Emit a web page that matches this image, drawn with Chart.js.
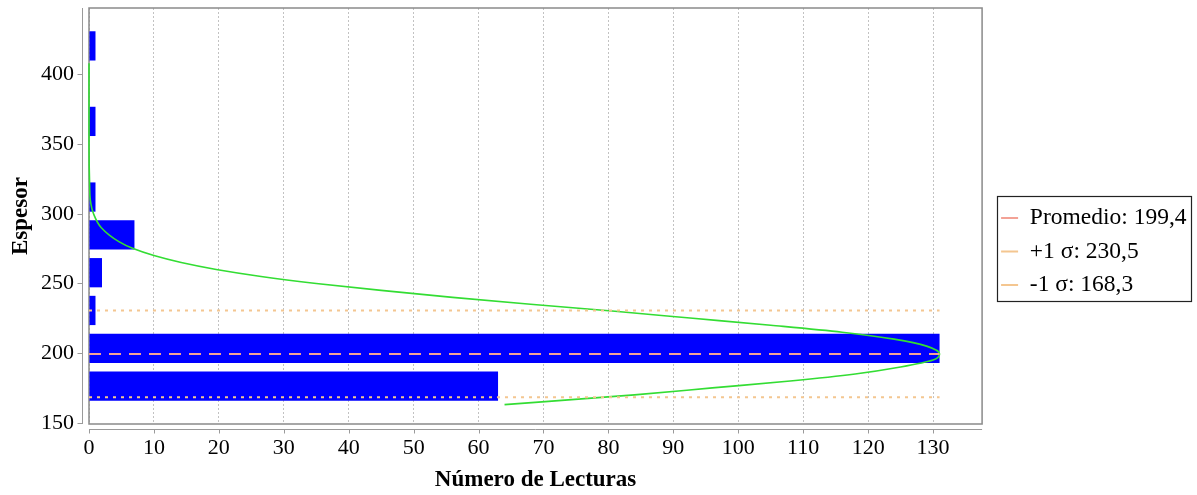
<!DOCTYPE html>
<html>
<head>
<meta charset="utf-8">
<title>Histograma de espesor</title>
<script src="https://cdn.jsdelivr.net/npm/chart.js@4.4.1/dist/chart.umd.min.js"></script>
<style>
  html, body { margin: 0; padding: 0; background: #fff; }
  #wrap { width: 1197px; height: 495px; position: relative; }
</style>
</head>
<body>
<div id="wrap"><canvas id="histograma"></canvas></div>
<script>
// Histogram classes (centre of each thickness class) and readings per class
var binCenters = [176.3, 203.4, 230.6, 257.7, 284.8, 312.0, 339.1, 366.3, 393.4, 420.5];
var binCounts = [63, 131, 1, 2, 7, 1, 0, 1, 0, 1];

// Fitted normal curve
var curveEspesor = [163, 170, 175, 180, 185, 190, 195, 199.4, 205, 210, 215, 220, 225, 230, 235,
                    240, 245, 250, 255, 260, 265, 270, 275, 280, 290, 300, 310, 320, 350, 380, 408];
var curveLecturas = [64, 84, 96, 108, 118, 125, 130, 131, 129, 124, 116, 105, 93, 81, 68,
                     56, 45, 35, 26.5, 19.6, 14.2, 10, 6.8, 4.6, 1.9, 0.7, 0.2, 0.1, 0, 0, 0];

// Statistics
var promedio = 199.4;
var sigmaMas = 230.5;
var sigmaMenos = 168.3;
var lineaHasta = 131;

// Axis ranges and tick labels
var xMin = 0, xMax = 137.55;
var xTicks = [0, 10, 20, 30, 40, 50, 60, 70, 80, 90, 100, 110, 120, 130];
var yMin = 149.1, yMax = 447.7;
var yTicks = [150, 200, 250, 300, 350, 400];

function coma(v) { return v.toFixed(1).replace('.', ','); }

var barras = binCenters.map(function (c, i) { return { x: binCounts[i], y: c }; });
var curva = curveEspesor.map(function (e, i) { return { x: curveLecturas[i], y: e }; });
function horizontal(v) { return [{ x: 0, y: v }, { x: lineaHasta, y: v }]; }

var serif = "'Liberation Serif', 'Times New Roman', serif";
var tickFont = { family: serif, size: 22 };
var titleFont = { family: serif, size: 23, weight: 'bold' };

// plot frame, offset axis lines and the legend box
var marco = {
  id: 'marco',
  afterLayout: function (chart) {
    var lg = chart.legend;
    if (lg) { lg.left += 9; lg.right += 9; }
  },
  beforeDatasetsDraw: function (chart) {
    var a = chart.chartArea, ctx = chart.ctx;
    var sx = chart.scales.x, sy = chart.scales.y;
    ctx.save();
    ctx.strokeStyle = '#8a8a8a';
    ctx.lineWidth = 1.5;
    ctx.strokeRect(a.left, a.top, a.right - a.left, a.bottom - a.top);
    var ax = Math.round(a.left - 7) + 0.5, ay = Math.round(a.bottom + 5) + 0.5;
    ctx.strokeStyle = '#9a9a9a';
    ctx.lineWidth = 1;
    ctx.beginPath();
    ctx.moveTo(ax, a.top); ctx.lineTo(ax, a.bottom);
    ctx.moveTo(a.left, ay); ctx.lineTo(a.right, ay);
    sy.ticks.forEach(function (t) {
      var p = Math.round(sy.getPixelForValue(t.value)) + 0.5;
      ctx.moveTo(ax - 5, p); ctx.lineTo(ax, p);
    });
    sx.ticks.forEach(function (t) {
      var p = Math.round(sx.getPixelForValue(t.value)) + 0.5;
      ctx.moveTo(p, ay); ctx.lineTo(p, ay + 4);
    });
    ctx.stroke();
    ctx.restore();
  },
  afterDraw: function (chart) {
    var hb = chart.legend && chart.legend.legendHitBoxes;
    if (!hb || !hb.length) return;
    var l = hb[0].left, r = 0;
    hb.forEach(function (h) { l = Math.min(l, h.left); r = Math.max(r, h.left + h.width); });
    var t = hb[0].top - 10, b = hb[hb.length - 1].top + hb[hb.length - 1].height + 4;
    var ctx = chart.ctx;
    ctx.save();
    ctx.strokeStyle = '#222';
    ctx.lineWidth = 1.2;
    ctx.strokeRect(Math.round(l - 4) + 0.5, Math.round(t) + 0.5, Math.round(r - l + 9), Math.round(b - t));
    ctx.restore();
  }
};

function fixedTicks(list) {
  return function (s) { s.ticks = list.map(function (v) { return { value: v }; }); };
}
function noPadding(s) { s.paddingTop = 0; s.paddingBottom = 0; s.paddingLeft = 0; s.paddingRight = 0; }

new Chart(document.getElementById('histograma'), {
  type: 'bar',
  data: {
    datasets: [
      { type: 'line', label: 'Promedio: ' + coma(promedio), data: horizontal(promedio),
        borderColor: '#f3a296', borderWidth: 2, borderDash: [12, 8], pointRadius: 0, order: 1 },
      { type: 'line', label: '+1 σ: ' + coma(sigmaMas), data: horizontal(sigmaMas),
        borderColor: '#f4c690', borderWidth: 2, borderDash: [3, 5], pointRadius: 0, order: 1 },
      { type: 'line', label: '-1 σ: ' + coma(sigmaMenos), data: horizontal(sigmaMenos),
        borderColor: '#f4c690', borderWidth: 2, borderDash: [3, 5], pointRadius: 0, order: 1 },
      { type: 'line', label: 'Normal', data: curva, borderColor: '#33dd33', borderWidth: 1.6,
        pointRadius: 0, cubicInterpolationMode: 'monotone', clip: 2, order: 2 },
      { type: 'bar', label: 'Lecturas', data: barras, backgroundColor: '#0000ff', borderWidth: 0,
        barPercentage: 0.775, categoryPercentage: 1, order: 3 }
    ]
  },
  options: {
    indexAxis: 'y',
    responsive: true,
    maintainAspectRatio: false,
    animation: false,
    events: [],
    layout: { padding: { top: 8, right: 9.5, bottom: 0, left: 0 } },
    plugins: {
      tooltip: { enabled: false },
      legend: {
        position: 'right',
        labels: {
          filter: function (item) { return item.datasetIndex < 3; },
          usePointStyle: true,
          pointStyle: 'line',
          pointStyleWidth: 17,
          padding: 10,
          color: '#000',
          font: { family: serif, size: 23.5 }
        }
      }
    },
    scales: {
      x: {
        type: 'linear', min: xMin, max: xMax,
        afterBuildTicks: fixedTicks(xTicks),
        ticks: { padding: 11, color: '#000', font: tickFont, maxRotation: 0, autoSkip: false },
        grid: { color: '#c2c2c2', lineWidth: 1, drawTicks: false },
        border: { display: false, dash: [2, 2] },
        title: { display: true, text: 'Número de Lecturas', color: '#000', font: titleFont, padding: { top: 0, bottom: 1 } },
        afterFit: function (s) { s.height = 71; noPadding(s); }
      },
      y: {
        type: 'linear', min: yMin, max: yMax, offset: false,
        afterBuildTicks: fixedTicks(yTicks),
        ticks: { padding: 15, color: '#000', font: tickFont, autoSkip: false },
        grid: { display: false, offset: false, drawTicks: false },
        border: { display: false },
        title: { display: true, text: 'Espesor', color: '#000', font: titleFont, padding: { top: 7, bottom: 0 } },
        afterFit: function (s) { s.width = 89; noPadding(s); }
      }
    }
  },
  plugins: [marco]
});
</script>
</body>
</html>
